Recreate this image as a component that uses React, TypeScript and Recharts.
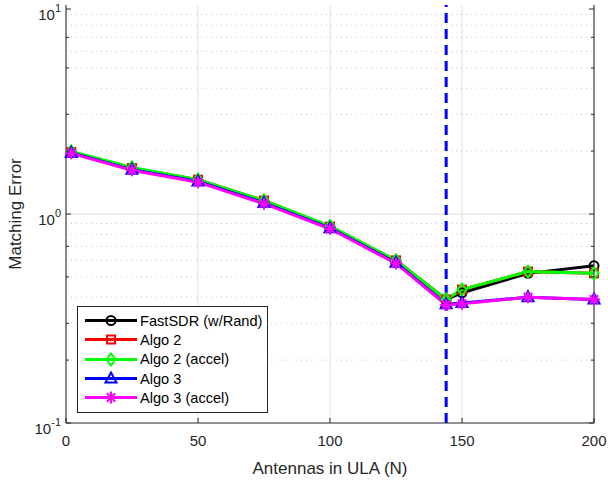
import React from "react";
import { LineChart, Line, XAxis, YAxis, CartesianGrid, ReferenceLine, Legend } from "recharts";

const antennas = [2, 25, 50, 75, 100, 125, 144, 150, 175, 200];
const fastSdr = [1.97, 1.65, 1.45, 1.15, 0.87, 0.595, 0.39, 0.42, 0.52, 0.565];
const algo2 = [1.98, 1.66, 1.46, 1.16, 0.87, 0.6, 0.39, 0.435, 0.53, 0.52];
const algo2Accel = [1.99, 1.67, 1.46, 1.16, 0.875, 0.6, 0.39, 0.435, 0.53, 0.52];
const algo3 = [1.96, 1.63, 1.43, 1.13, 0.855, 0.585, 0.37, 0.375, 0.4, 0.39];
const algo3Accel = [1.95, 1.62, 1.42, 1.12, 0.85, 0.58, 0.367, 0.372, 0.4, 0.39];

const xTicks = [0, 50, 100, 150, 200];
const majorY = [0.1, 1, 10];
const minorY = [0.2, 0.3, 0.4, 0.5, 0.6, 0.7, 0.8, 0.9, 2, 3, 4, 5, 6, 7, 8, 9];
const cutoff = 144;

const data = antennas.map((n, i) => ({
  n,
  fast: fastSdr[i],
  a2: algo2[i],
  a2a: algo2Accel[i],
  a3: algo3[i],
  a3a: algo3Accel[i],
}));

const font = "'Liberation Sans', Arial, Helvetica, sans-serif";
const axisColor = "#262626";

type Kind = "circle" | "square" | "diamond" | "triangle" | "star";

function Marker({ cx, cy, kind, color }: { cx: number; cy: number; kind: Kind; color: string }) {
  const sw = 2;
  if (kind === "circle") return <circle cx={cx} cy={cy} r={4.5} fill="none" stroke={color} strokeWidth={sw} />;
  if (kind === "square") return <rect x={cx - 4} y={cy - 4} width={8} height={8} fill="none" stroke={color} strokeWidth={sw} />;
  if (kind === "diamond")
    return <polygon points={`${cx},${cy - 6} ${cx + 4.5},${cy} ${cx},${cy + 6} ${cx - 4.5},${cy}`} fill="none" stroke={color} strokeWidth={sw} />;
  if (kind === "triangle")
    return <polygon points={`${cx},${cy - 6} ${cx + 5.5},${cy + 4} ${cx - 5.5},${cy + 4}`} fill="none" stroke={color} strokeWidth={sw} />;
  const r = 6;
  return (
    <g stroke={color} strokeWidth={sw}>
      <line x1={cx - r} y1={cy} x2={cx + r} y2={cy} />
      <line x1={cx} y1={cy - r} x2={cx} y2={cy + r} />
      <line x1={cx - r * 0.7} y1={cy - r * 0.7} x2={cx + r * 0.7} y2={cy + r * 0.7} />
      <line x1={cx - r * 0.7} y1={cy + r * 0.7} x2={cx + r * 0.7} y2={cy - r * 0.7} />
    </g>
  );
}

const series: { key: string; name: string; color: string; kind: Kind }[] = [
  { key: "fast", name: "FastSDR (w/Rand)", color: "#000000", kind: "circle" },
  { key: "a2", name: "Algo 2", color: "#ff0000", kind: "square" },
  { key: "a2a", name: "Algo 2 (accel)", color: "#00ff00", kind: "diamond" },
  { key: "a3", name: "Algo 3", color: "#0000ff", kind: "triangle" },
  { key: "a3a", name: "Algo 3 (accel)", color: "#ff00ff", kind: "star" },
];

function LeftTick(props: any) {
  const { x, y, payload } = props;
  const v = payload.value;
  const major = majorY.includes(v);
  const exp = Math.round(Math.log10(v));
  return (
    <g>
      <line x1={x} y1={y} x2={x + (major ? 5 : 3)} y2={y} stroke={axisColor} />
      {major && (
        <text x={x - 5} y={y + 11} textAnchor="end" fontFamily={font} fontSize={15} fill={axisColor}>
          10<tspan fontSize={11} dy={-8}>{exp}</tspan>
        </text>
      )}
    </g>
  );
}

function RightTick(props: any) {
  const { x, y, payload } = props;
  const major = majorY.includes(payload.value);
  return <line x1={x} y1={y} x2={x - (major ? 5 : 3)} y2={y} stroke={axisColor} />;
}

function BottomTick(props: any) {
  const { x, y, payload } = props;
  return (
    <g>
      <line x1={x} y1={y} x2={x} y2={y - 5} stroke={axisColor} />
      <text x={x} y={y + 23} textAnchor="middle" fontFamily={font} fontSize={15} fill={axisColor}>
        {payload.value}
      </text>
    </g>
  );
}

function TopTick(props: any) {
  const { x, y } = props;
  return <line x1={x} y1={y} x2={x} y2={y + 5} stroke={axisColor} />;
}

function LegendBox() {
  return (
    <div
      style={{
        border: `1px solid ${axisColor}`,
        background: "#fff",
        width: 189,
        height: 101,
        boxSizing: "content-box",
        paddingTop: 4,
        fontFamily: font,
        fontSize: 14.6,
        color: "#000",
        textAlign: "left",
      }}
    >
      {series.map((s) => (
        <div key={s.key} style={{ display: "flex", alignItems: "center", height: 19.3 }}>
          <svg width={62} height={19} style={{ flex: "none" }}>
            <line x1={7} y1={9.5} x2={59} y2={9.5} stroke={s.color} strokeWidth={3} />
            <Marker cx={33} cy={9.5} kind={s.kind} color={s.color} />
          </svg>
          <span>{s.name}</span>
        </div>
      ))}
    </div>
  );
}

export default function App() {
  return (
    <div style={{ position: "relative", width: 608, height: 480, background: "#fff" }}>
      <style>{"body{margin:0}"}</style>
      <LineChart width={608} height={480} data={data} margin={{ top: 5, right: 13, bottom: 27, left: 0 }}>
        <CartesianGrid horizontal={false} stroke="#dfdfdf" xAxisId="b" yAxisId="l" />
        {minorY.map((v) => (
          <ReferenceLine key={v} y={v} yAxisId="l" xAxisId="b" stroke="#c8c8c8" strokeDasharray="1 4" />
        ))}
        <ReferenceLine y={1} yAxisId="l" xAxisId="b" stroke="#dfdfdf" />
        <XAxis
          xAxisId="b"
          dataKey="n"
          type="number"
          domain={[0, 200]}
          ticks={xTicks}
          height={30}
          tickSize={0}
          tickMargin={0}
          tick={<BottomTick />}
          tickLine={false}
          axisLine={{ stroke: axisColor }}
          label={{ value: "Antennas in ULA (N)", position: "insideBottom", offset: -21, fontFamily: font, fontSize: 17, fill: axisColor }}
        />
        <XAxis
          xAxisId="t"
          orientation="top"
          dataKey="n"
          type="number"
          domain={[0, 200]}
          ticks={xTicks}
          height={0}
          tickSize={0}
          tick={<TopTick />}
          tickLine={false}
          axisLine={{ stroke: axisColor }}
        />
        <YAxis
          yAxisId="l"
          scale="log"
          domain={[0.1, 10]}
          allowDataOverflow
          ticks={[...majorY, ...minorY].sort((a, b) => a - b)}
          width={66}
          tickSize={0}
          tickMargin={0}
          tick={<LeftTick />}
          tickLine={false}
          axisLine={{ stroke: axisColor }}
          label={{ value: "Matching Error", angle: -90, position: "insideLeft", offset: 15, fontFamily: font, fontSize: 17, fill: axisColor, style: { textAnchor: "middle" } }}
        />
        <YAxis
          yAxisId="r"
          orientation="right"
          scale="log"
          domain={[0.1, 10]}
          allowDataOverflow
          ticks={[...majorY, ...minorY].sort((a, b) => a - b)}
          width={1}
          tickSize={0}
          tickMargin={0}
          tick={<RightTick />}
          tickLine={false}
          axisLine={{ stroke: axisColor }}
        />
        <ReferenceLine x={cutoff} xAxisId="b" yAxisId="l" stroke="#0000ff" strokeWidth={3} strokeDasharray="10 6" />
        {series.map((s) => (
          <Line
            key={s.key}
            xAxisId="b"
            yAxisId="l"
            dataKey={s.key}
            name={s.name}
            stroke={s.color}
            strokeWidth={3}
            isAnimationActive={false}
            activeDot={false}
            dot={(p: any) => <Marker key={`${s.key}-${p.index}`} cx={p.cx} cy={p.cy} kind={s.kind} color={s.color} />}
          />
        ))}
        <Legend
          layout="horizontal"
          verticalAlign="middle"
          align="center"
          content={<LegendBox />}
          wrapperStyle={{ position: "absolute", left: 77, top: 306, width: 191, height: 106 }}
        />
      </LineChart>
    </div>
  );
}
